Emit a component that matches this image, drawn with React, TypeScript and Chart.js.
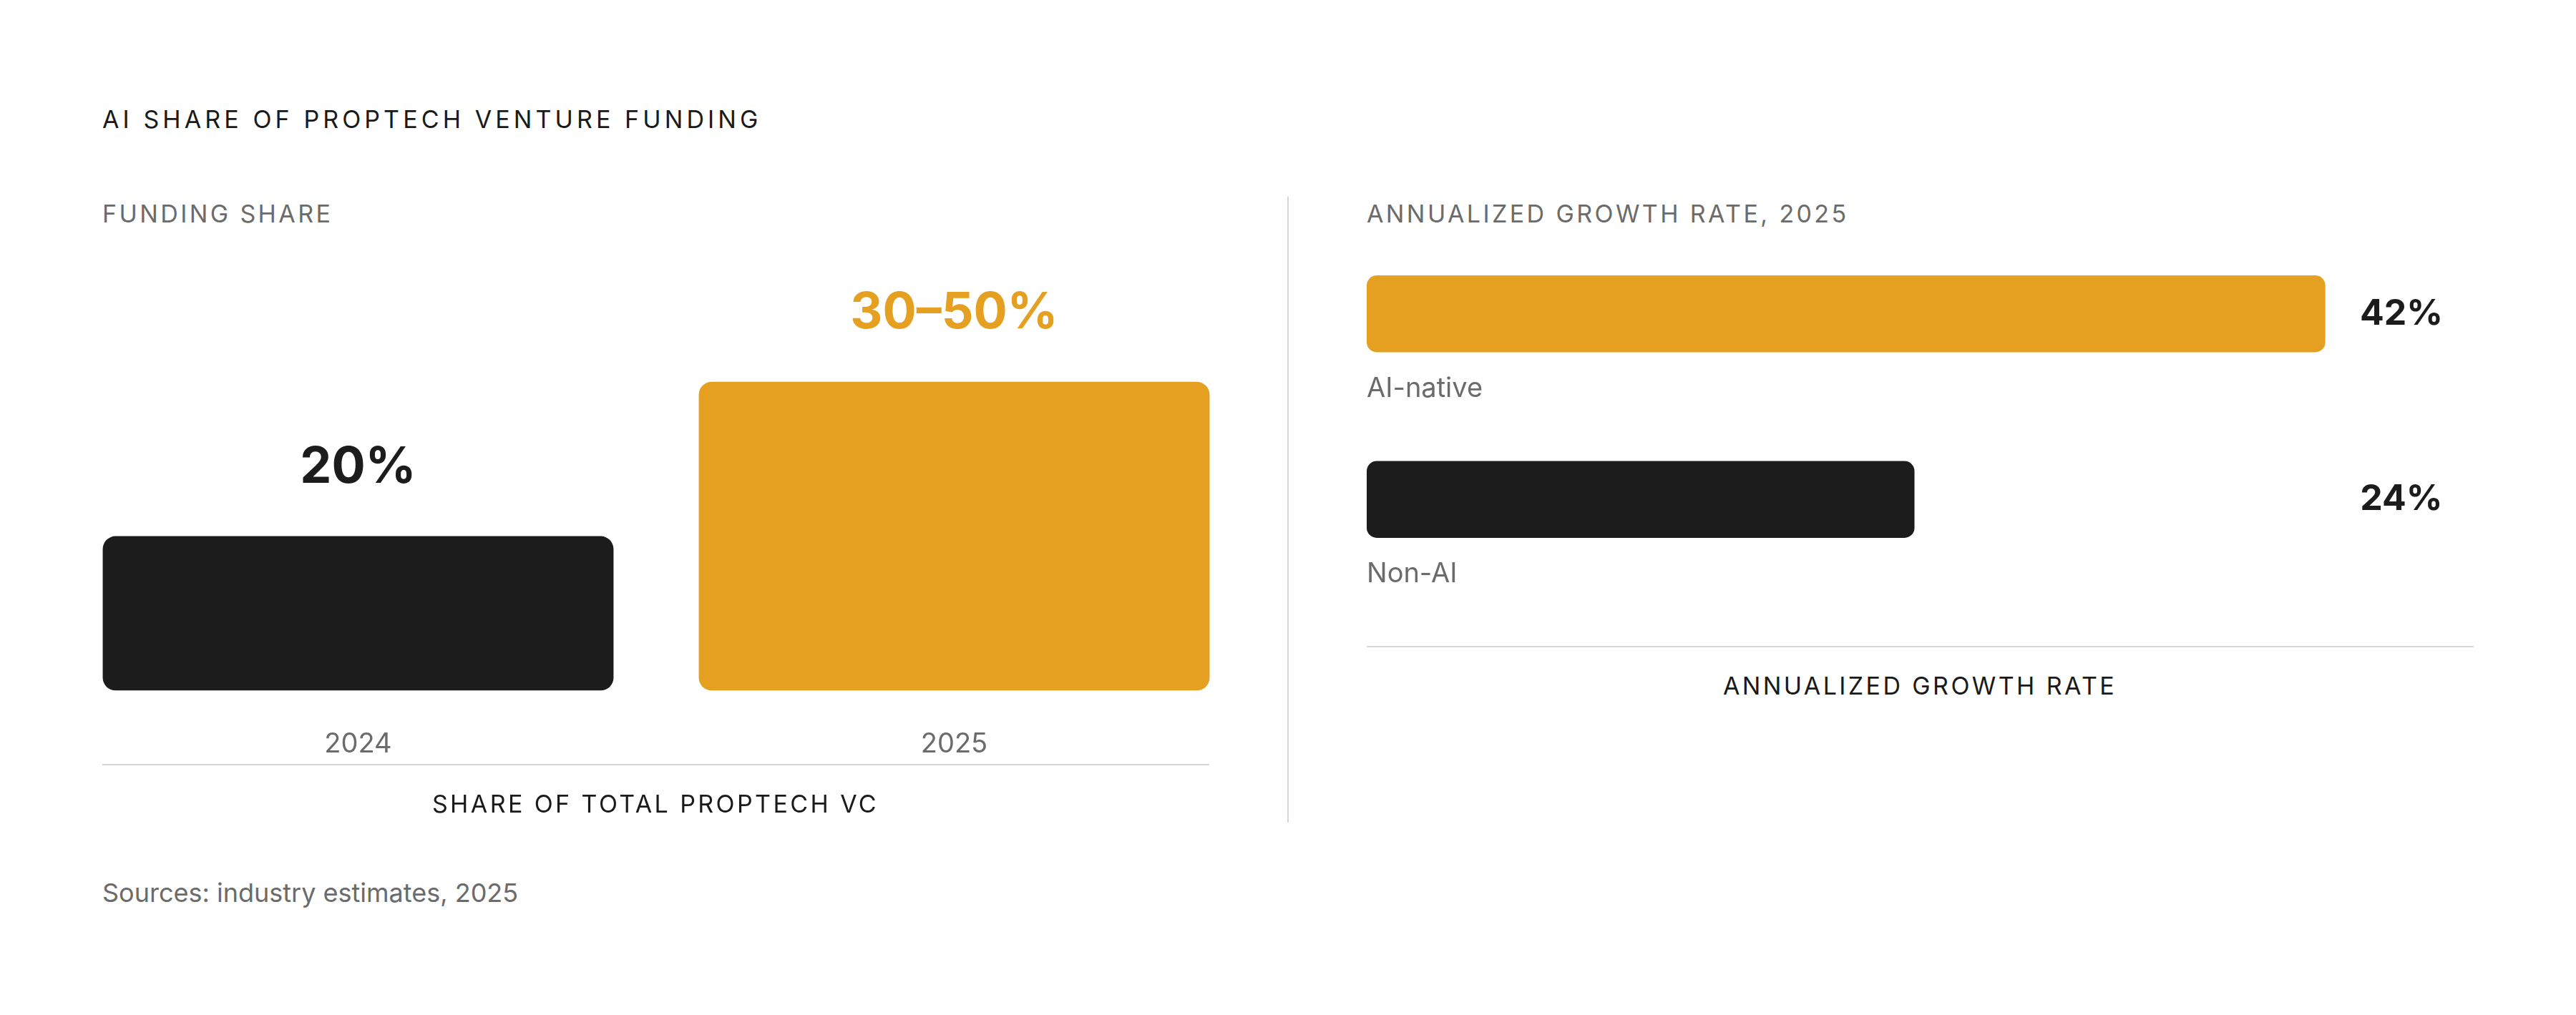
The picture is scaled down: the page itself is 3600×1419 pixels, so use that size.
import React, { useEffect, useRef } from 'react';
import { Chart, registerables } from 'chart.js';

Chart.register(...registerables);

// --- data ---
const shareYears = ['2024', '2025'];
const shareValues = [20, 40]; // 2025 drawn at mid of the 30–50% range
const shareLabels = ['20%', '30–50%'];

const growthCats = ['AI-native', 'Non-AI'];
const growthValues = [42, 24];
const growthLabels = ['42%', '24%'];

const ORANGE = '#E6A021';
const DARK = '#1C1C1C';
const GRAY = '#6B6B6B';
const RULE = '#D6D6D6';
const FONT = 'Inter, "DejaVu Sans", sans-serif';

Chart.defaults.font.family = FONT;

const shareColors = [DARK, ORANGE];
const growthColors = [ORANGE, DARK];

// labels above the vertical bars
const shareLabelPlugin = {
  id: 'shareLabels',
  afterDatasetsDraw(chart: any) {
    const ctx = chart.ctx;
    const meta = chart.getDatasetMeta(0);
    ctx.save();
    ctx.font = `700 70px ${FONT}`;
    ctx.textAlign = 'center';
    ctx.textBaseline = 'middle';
    meta.data.forEach((bar: any, i: number) => {
      ctx.fillStyle = shareColors[i];
      ctx.fillText(shareLabels[i], bar.x, bar.y - 96);
    });
    ctx.restore();
  },
};

// category name under each bar + value column on the right
const growthLabelPlugin = {
  id: 'growthLabels',
  afterDatasetsDraw(chart: any) {
    const ctx = chart.ctx;
    const meta = chart.getDatasetMeta(0);
    const area = chart.chartArea;
    ctx.save();
    ctx.textBaseline = 'middle';
    meta.data.forEach((bar: any, i: number) => {
      ctx.font = `400 38px ${FONT}`;
      ctx.fillStyle = GRAY;
      ctx.textAlign = 'left';
      ctx.fillText(growthCats[i], area.left, bar.y + bar.height / 2 + 51);
      ctx.font = `700 50px ${FONT}`;
      ctx.fillStyle = DARK;
      ctx.textAlign = 'center';
      ctx.fillText(growthLabels[i], area.right - 101, bar.y);
    });
    ctx.restore();
  },
};

function Txt(props: { x: number; y: number; center?: boolean; style?: React.CSSProperties; children: React.ReactNode }) {
  return (
    <div
      style={{
        position: 'absolute',
        left: props.x,
        top: props.y,
        transform: props.center ? 'translate(-50%, -50%)' : 'translateY(-50%)',
        whiteSpace: 'nowrap',
        lineHeight: 1,
        fontFamily: FONT,
        ...props.style,
      }}
    >
      {props.children}
    </div>
  );
}

export default function App() {
  const shareRef = useRef<HTMLCanvasElement>(null);
  const growthRef = useRef<HTMLCanvasElement>(null);

  useEffect(() => {
    if (!shareRef.current || !growthRef.current) return;

    const shareChart = new Chart(shareRef.current, {
      type: 'bar',
      data: {
        labels: shareYears,
        datasets: [{
          data: shareValues,
          backgroundColor: shareColors,
          borderRadius: 18,
          borderSkipped: false,
          barPercentage: 0.857,
          categoryPercentage: 1,
        }],
      },
      options: {
        animation: false,
        responsive: false,
        devicePixelRatio: 1,
        layout: { padding: { left: 84, right: 50, top: 68, bottom: 0 } },
        plugins: { legend: { display: false }, tooltip: { enabled: false } },
        scales: {
          x: {
            grid: { display: false, drawTicks: false },
            border: { display: false },
            ticks: { color: GRAY, font: { size: 38 }, padding: 52 },
          },
          y: { display: false, min: 0, max: 60 },
        },
      },
      plugins: [shareLabelPlugin],
    });

    const growthChart = new Chart(growthRef.current, {
      type: 'bar',
      data: {
        labels: growthCats,
        datasets: [{
          data: growthValues,
          backgroundColor: growthColors,
          borderRadius: 14,
          borderSkipped: false,
          barPercentage: 0.414,
          categoryPercentage: 1,
        }],
      },
      options: {
        indexAxis: 'y',
        animation: false,
        responsive: false,
        devicePixelRatio: 1,
        layout: { padding: { left: 110, right: 143, top: 9, bottom: 12 } },
        plugins: { legend: { display: false }, tooltip: { enabled: false } },
        scales: {
          x: { display: false, min: 0, max: 48.5 },
          y: { display: false },
        },
      },
      plugins: [growthLabelPlugin],
    });

    return () => {
      shareChart.destroy();
      growthChart.destroy();
    };
  }, []);

  const title: React.CSSProperties = { fontSize: 34, letterSpacing: '0.15em' };
  const caps: React.CSSProperties = { fontSize: 34, letterSpacing: '0.1em' };

  return (
    <div style={{ position: 'absolute', left: 0, top: 0, width: 3600, height: 1419, background: '#fff', overflow: 'hidden' }}>
      <Txt x={143} y={167} style={{ ...title, color: '#1A1A1A' }}>AI SHARE OF PROPTECH VENTURE FUNDING</Txt>

      {/* left panel */}
      <Txt x={143} y={299} style={{ ...caps, color: GRAY }}>FUNDING SHARE</Txt>
      <canvas ref={shareRef} width={1800} height={865} style={{ position: 'absolute', left: 0, top: 250 }} />
      <div style={{ position: 'absolute', left: 143, top: 1068, width: 1547, height: 2, background: RULE }} />
      <Txt x={916} y={1124} center style={{ ...caps, color: '#1A1A1A' }}>SHARE OF TOTAL PROPTECH VC</Txt>

      {/* divider */}
      <div style={{ position: 'absolute', left: 1799, top: 275, width: 2, height: 875, background: RULE }} />

      {/* right panel */}
      <Txt x={1910} y={299} style={{ ...caps, color: GRAY }}>ANNUALIZED GROWTH RATE, 2025</Txt>
      <canvas ref={growthRef} width={1800} height={540} style={{ position: 'absolute', left: 1800, top: 300 }} />
      <div style={{ position: 'absolute', left: 1910, top: 903, width: 1547, height: 2, background: RULE }} />
      <Txt x={2683} y={959} center style={{ ...caps, color: '#1A1A1A' }}>ANNUALIZED GROWTH RATE</Txt>

      <Txt x={143} y={1248} style={{ fontSize: 36, color: GRAY }}>Sources: industry estimates, 2025</Txt>
    </div>
  );
}
